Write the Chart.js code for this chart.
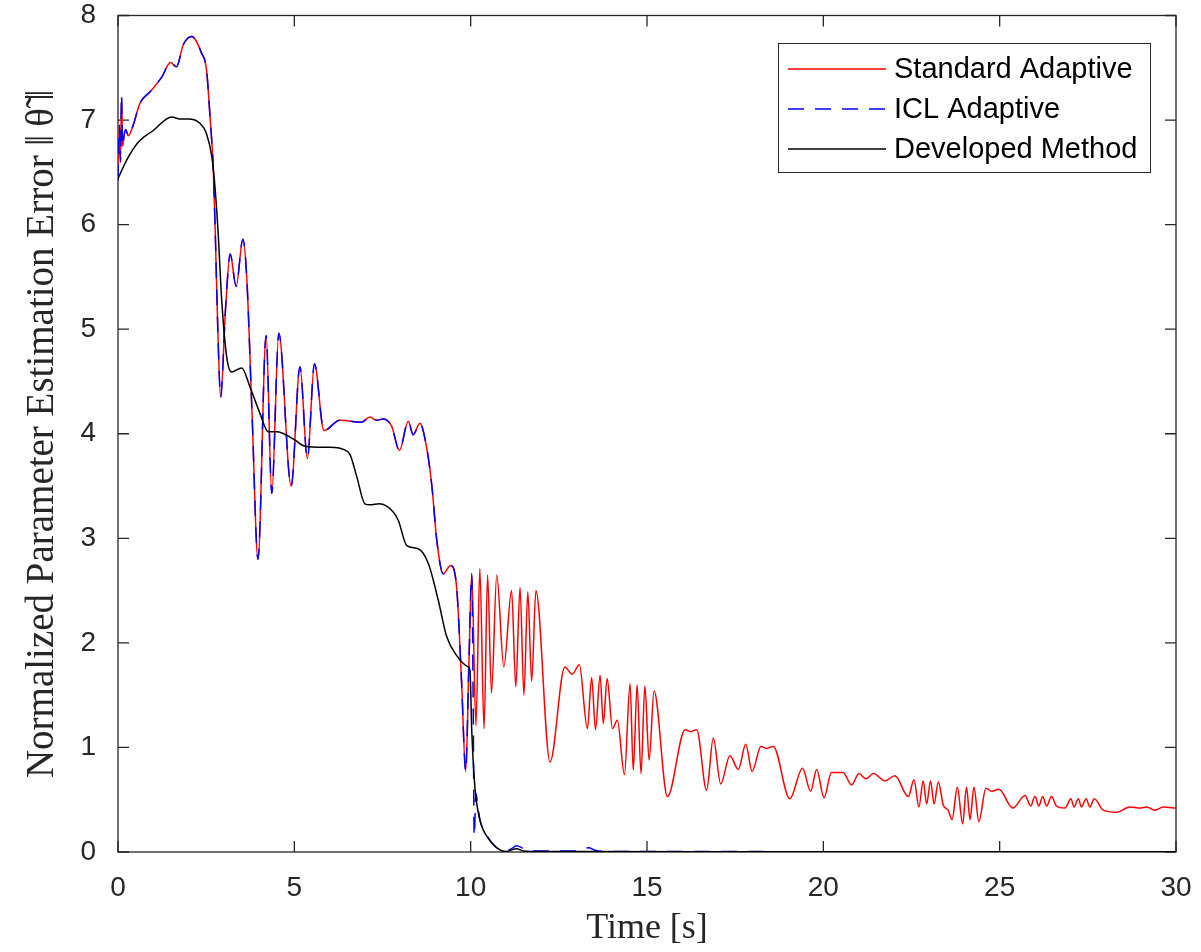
<!DOCTYPE html>
<html>
<head>
<meta charset="utf-8">
<script src="https://cdn.jsdelivr.net/npm/chart.js@4.4.1/dist/chart.umd.min.js"></script>
<style>
  html, body { margin: 0; padding: 0; background: #fff; }
  #wrap { width: 1201px; height: 952px; }
</style>
</head>
<body>
<div id="wrap"><canvas id="errChart" width="1201" height="952"></canvas></div>
<script>
// values
const seriesLabels = ['Standard Adaptive', 'ICL Adaptive', 'Developed Method'];

const stdTime = [0, 0.04, 0.07, 0.1, 0.13, 0.17, 0.22, 0.29, 0.43, 0.62, 0.91, 1.24, 1.49, 1.66, 1.85, 2.09, 2.37, 2.51, 2.61, 2.7, 2.76, 2.83, 2.91,
  3.05, 3.18, 3.35, 3.54, 3.65, 3.8, 3.97, 4.2, 4.36, 4.56, 4.91, 5.16, 5.37, 5.57, 5.84, 6.29, 6.91, 7.14, 7.33, 7.52, 7.76, 7.98,
  8.23, 8.37, 8.56, 8.75, 8.9, 9.04, 9.22, 9.43, 9.6, 9.74, 9.86, 9.95, 10.03, 10.15, 10.26, 10.38, 10.48, 10.59, 10.74, 10.94,
  11.16, 11.28, 11.4, 11.51, 11.62, 11.73, 11.85, 12.25, 12.67, 12.88, 13.08, 13.31, 13.43, 13.54, 13.67, 13.76, 13.87, 14.02,
  14.16, 14.36, 14.52, 14.61, 14.72, 14.83, 14.94, 15.06, 15.2, 15.58, 16.08, 16.24, 16.41, 16.69, 16.88, 17.09, 17.35, 17.59,
  17.8, 17.98, 18.23, 18.39, 18.58, 19.05, 19.41, 19.64, 19.81, 20.02, 20.23, 20.56, 20.8, 21.01, 21.21, 21.42, 21.75, 22.03,
  22.41, 22.57, 22.71, 22.83, 22.93, 23.04, 23.14, 23.26, 23.4, 23.54, 23.65, 23.8, 23.95, 24.06, 24.16, 24.27, 24.41, 24.61,
  24.77, 24.98, 25.37, 25.72, 25.88, 26.0, 26.11, 26.22, 26.33, 26.47, 26.61, 26.85, 27.02, 27.11, 27.23, 27.32, 27.45, 27.56,
  27.68, 27.94, 28.32, 28.69, 28.98, 29.17, 29.4, 29.64, 30];
const stdError = [6.5, 6.95, 6.6, 7.22, 6.75, 6.85, 6.91, 6.85, 6.95, 7.16, 7.27, 7.41, 7.55, 7.51, 7.72, 7.8, 7.64, 7.48, 7.03, 6.55, 5.9, 5.0, 4.35,
  5.2, 5.72, 5.41, 5.86, 5.5, 4.2, 2.8, 4.94, 3.43, 4.96, 3.5, 4.64, 3.76, 4.67, 4.03, 4.13, 4.11, 4.16, 4.13, 4.14, 4.07, 3.84,
  4.12, 3.99, 4.1, 3.87, 3.5, 2.98, 2.66, 2.74, 2.54, 1.64, 0.77, 1.8, 2.66, 1.21, 2.71, 1.18, 2.65, 1.52, 2.65, 1.77,
  2.5, 1.58, 2.53, 1.5, 2.49, 1.63, 2.5, 0.86, 1.77, 1.7, 1.79, 1.18, 1.67, 1.17, 1.69, 1.23, 1.66, 1.18,
  1.26, 0.74, 1.61, 0.78, 1.6, 0.75, 1.59, 0.88, 1.54, 0.53, 1.17, 1.15, 1.17, 0.59, 1.09, 0.65, 0.92, 0.79,
  1.03, 0.77, 1.01, 0.99, 1.01, 0.51, 0.8, 0.58, 0.79, 0.52, 0.76, 0.76, 0.64, 0.75, 0.7, 0.75, 0.68, 0.73,
  0.53, 0.69, 0.43, 0.68, 0.46, 0.68, 0.46, 0.67, 0.45, 0.4, 0.31, 0.62, 0.27, 0.62, 0.31, 0.62, 0.29, 0.61,
  0.58, 0.6, 0.42, 0.54, 0.44, 0.53, 0.44, 0.53, 0.44, 0.53, 0.44, 0.42, 0.51, 0.43, 0.51, 0.43, 0.51, 0.43,
  0.51, 0.4, 0.38, 0.43, 0.42, 0.43, 0.4, 0.43, 0.42];

const iclTime = [0, 0.04, 0.07, 0.1, 0.13, 0.17, 0.22, 0.29, 0.43, 0.62, 0.91, 1.24, 1.49, 1.66, 1.85, 2.09, 2.37, 2.51, 2.61, 2.7, 2.76, 2.83, 2.91,
  3.05, 3.18, 3.35, 3.54, 3.65, 3.8, 3.97, 4.2, 4.36, 4.56, 4.91, 5.16, 5.37, 5.57, 5.84, 6.29, 6.91, 7.14, 7.33, 7.52, 7.76, 7.98,
  8.23, 8.37, 8.56, 8.75, 8.9, 9.04, 9.22, 9.43, 9.6, 9.74, 9.86, 9.95, 10.03, 10.07, 10.1, 10.15, 10.2, 10.26, 10.4, 10.55, 10.83,
  11.0, 11.15, 11.3, 11.45, 11.6, 12.0, 12.5, 13.0, 13.2, 13.35, 13.5, 13.8, 15, 20, 25, 30];
const iclError = [6.42, 6.95, 6.6, 7.24, 6.75, 6.85, 6.91, 6.85, 6.95, 7.16, 7.27, 7.41, 7.55, 7.51, 7.72, 7.8, 7.64, 7.48, 7.03, 6.55, 5.9, 5.0, 4.35,
  5.2, 5.72, 5.41, 5.86, 5.5, 4.2, 2.8, 4.94, 3.43, 4.96, 3.5, 4.64, 3.76, 4.67, 4.03, 4.13, 4.11, 4.16, 4.13, 4.14, 4.07, 3.84,
  4.12, 3.99, 4.1, 3.87, 3.5, 2.98, 2.66, 2.74, 2.54, 1.64, 0.77, 1.8, 2.66, 1.48, 0.15, 0.56, 0.45, 0.31, 0.2, 0.11, 0.02,
  0.01, 0.03, 0.06, 0.04, 0.01, 0.01, 0.01, 0.01, 0.03, 0.04, 0.02, 0.005, 0.005, 0.003, 0.002, 0.002];

const devTime = [0, 0.25, 0.58, 1.0, 1.52, 1.76, 2.0, 2.32, 2.51, 2.66, 2.75, 2.84, 2.94, 3.08, 3.22, 3.51, 3.74, 4.03, 4.26, 4.5,
  4.97, 5.3, 5.82, 6.01, 6.39, 6.58, 6.77, 7.0, 7.14, 7.41, 7.81, 7.95, 8.19, 8.51, 8.8, 9.08, 9.32, 9.6, 9.93, 9.98,
  10.03, 10.12, 10.26, 10.5, 10.83, 11.0, 11.3, 11.5, 12.0, 13.0, 20, 30];
const devError = [6.44, 6.62, 6.79, 6.9, 7.03, 7.01, 7.01, 6.97, 6.87, 6.65, 6.36, 5.92, 5.28, 4.74, 4.59, 4.63, 4.45, 4.19, 4.02, 4.02,
  3.95, 3.88, 3.87, 3.87, 3.85, 3.8, 3.59, 3.33, 3.32, 3.33, 3.25, 3.17, 2.93, 2.9, 2.76, 2.41, 2.06, 1.88, 1.77, 1.74,
  1.17, 0.62, 0.31, 0.13, 0.02, 0.005, 0.03, 0.01, 0.005, 0.005, 0.002, 0.002];

const xTicks = [0, 5, 10, 15, 20, 25, 30];
const yTicks = [0, 1, 2, 3, 4, 5, 6, 7, 8];

const AXIS = '#262626';

function toPoints(ts, vs) {
    return ts.map((t, i) => ({ x: t, y: vs[i] }));
}

// MATLAB style box with inward ticks, drawn under the lines
const axesBox = {
    id: 'axesBox',
    beforeDatasetsDraw(chart) {
        const { ctx, chartArea: a, scales } = chart;
        const len = 11;
        ctx.save();
        ctx.strokeStyle = AXIS;
        ctx.lineWidth = 1.3;
        ctx.strokeRect(a.left, a.top, a.right - a.left, a.bottom - a.top);
        ctx.beginPath();
        xTicks.forEach(v => {
            const px = scales.x.getPixelForValue(v);
            ctx.moveTo(px, a.bottom); ctx.lineTo(px, a.bottom - len);
            ctx.moveTo(px, a.top); ctx.lineTo(px, a.top + len);
        });
        yTicks.forEach(v => {
            const py = scales.y.getPixelForValue(v);
            ctx.moveTo(a.left, py); ctx.lineTo(a.left + len, py);
            ctx.moveTo(a.right, py); ctx.lineTo(a.right - len, py);
        });
        ctx.stroke();
        ctx.restore();
    }
};

// legend box in the top right corner
const boxLegend = {
    id: 'boxLegend',
    afterDraw(chart) {
        const { ctx } = chart;
        const x0 = 778, y0 = 43, w = 372, h = 129;
        ctx.save();
        ctx.fillStyle = '#fff';
        ctx.fillRect(x0, y0, w, h);
        ctx.strokeStyle = AXIS;
        ctx.lineWidth = 1;
        ctx.strokeRect(x0 + 0.5, y0 + 0.5, w, h);
        ctx.font = '29px "Liberation Sans", Arial, sans-serif';
        ctx.textBaseline = 'middle';
        chart.data.datasets.forEach((ds, i) => {
            const y = 69 + i * 40;
            ctx.beginPath();
            ctx.strokeStyle = ds.borderColor;
            ctx.lineWidth = 1.5;
            ctx.setLineDash(ds.borderDash || []);
            ctx.moveTo(788, y);
            ctx.lineTo(886, y);
            ctx.stroke();
            ctx.setLineDash([]);
            ctx.fillStyle = '#000';
            ctx.fillText(ds.label, 894, y + 1);
        });
        ctx.restore();
    }
};

const ctx = document.getElementById('errChart').getContext('2d');
new Chart(ctx, {
    type: 'line',
    data: {
        datasets: [
            {
                label: seriesLabels[0],
                data: toPoints(stdTime, stdError),
                borderColor: '#ff0000',
                borderWidth: 1.5,
                order: 3
            },
            {
                label: seriesLabels[1],
                data: toPoints(iclTime, iclError),
                borderColor: '#0000ff',
                borderWidth: 1.5,
                borderDash: [16, 11],
                order: 2
            },
            {
                label: seriesLabels[2],
                data: toPoints(devTime, devError),
                borderColor: '#000000',
                borderWidth: 1.5,
                order: 1
            }
        ]
    },
    options: {
        responsive: false,
        animation: false,
        events: [],
        elements: {
            point: { radius: 0 },
            line: { cubicInterpolationMode: 'monotone', fill: false }
        },
        layout: { padding: { left: 0, right: 25, top: 15.5, bottom: 0 } },
        plugins: {
            legend: { display: false },
            tooltip: { enabled: false }
        },
        scales: {
            x: {
                type: 'linear',
                min: 0,
                max: 30,
                grid: { display: false },
                border: { display: false },
                afterBuildTicks: s => { s.ticks = xTicks.map(v => ({ value: v })); },
                afterFit: s => { s.height = 100; s.paddingLeft = 0; s.paddingRight = 0; },
                ticks: {
                    color: AXIS,
                    padding: 14,
                    maxRotation: 0,
                    font: { family: '"Liberation Sans", Arial, sans-serif', size: 28, lineHeight: 1 }
                },
                title: {
                    display: true,
                    text: 'Time [s]',
                    color: AXIS,
                    padding: { top: 0, bottom: 2 },
                    font: { family: '"Liberation Serif", "Times New Roman", serif', size: 36 }
                }
            },
            y: {
                min: 0,
                max: 8,
                grid: { display: false },
                border: { display: false },
                afterBuildTicks: s => { s.ticks = yTicks.map(v => ({ value: v })); },
                afterFit: s => { s.width = 118; s.paddingTop = 0; s.paddingBottom = 0; },
                ticks: {
                    color: AXIS,
                    padding: 14,
                    font: { family: '"Liberation Sans", Arial, sans-serif', size: 28, lineHeight: 1 }
                },
                title: {
                    display: true,
                    text: 'Normalized Parameter Estimation Error \u2016\u2009\u03B8\u0303\u2009\u2016',
                    color: AXIS,
                    padding: { top: 19, bottom: 0 },
                    font: { family: '"Liberation Serif", "DejaVu Serif", serif', size: 39 }
                }
            }
        }
    },
    plugins: [axesBox, boxLegend]
});
</script>
</body>
</html>
